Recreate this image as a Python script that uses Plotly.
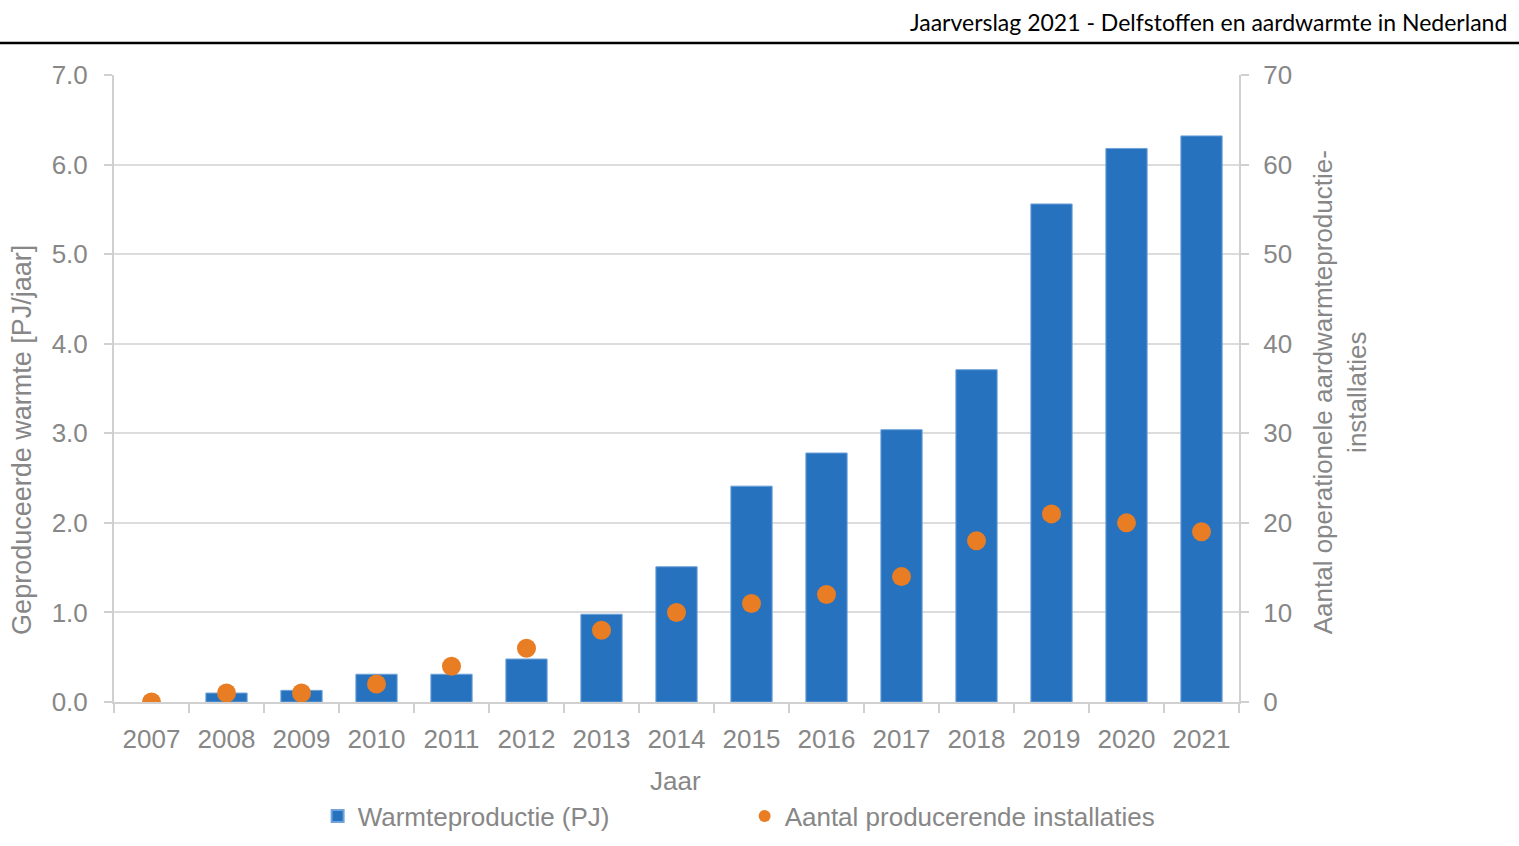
import plotly.graph_objects as go

years = [str(y) for y in range(2007, 2022)]
warmte_pj = [0.0, 0.10, 0.13, 0.31, 0.31, 0.48, 0.98, 1.51, 2.41, 2.78, 3.04, 3.71, 5.56, 6.18, 6.32]
installaties = [0, 1, 1, 2, 4, 6, 8, 10, 11, 12, 14, 18, 21, 20, 19]
left_ticks = [0, 1, 2, 3, 4, 5, 6, 7]
right_ticks = [0, 10, 20, 30, 40, 50, 60, 70]

GRAY = "#878787"
FONT = "Liberation Sans, Arial, sans-serif"

fig = go.Figure()
fig.add_trace(go.Bar(
    x=years, y=warmte_pj, name="Warmteproductie (PJ)",
    marker=dict(color="#2772BE",
                line=dict(color="#6FA3DA", width=[0 if v == 0 else 1 for v in warmte_pj])),
    width=0.55, yaxis="y",
))
fig.add_trace(go.Scatter(
    x=years, y=installaties, name="Aantal producerende installaties",
    mode="markers", marker=dict(color="#E87D24", size=19),
    yaxis="y2",
))

fig.update_layout(
    width=1519, height=846,
    margin=dict(l=114, r=280, t=75, b=144, autoexpand=False),
    paper_bgcolor="white", plot_bgcolor="white",
    font=dict(family=FONT, size=26, color=GRAY),
    showlegend=True,
    legend=dict(orientation="h", x=0.181, xanchor="left", yref="container", y=1 - 816 / 846,
                yanchor="middle",
                font=dict(size=26, color=GRAY), entrywidth=382, entrywidthmode="pixels",
                itemsizing="constant", bgcolor="rgba(0,0,0,0)"),
    xaxis=dict(
        type="category", range=[-0.5, len(years) - 0.5], automargin=False,
        showgrid=False, showline=True, linecolor="#d0d0d0", linewidth=2,
        ticks="outside", tickson="boundaries", ticklen=9, tickcolor="#d0d0d0", tickwidth=2,
        tickfont=dict(size=26, color=GRAY), ticklabelstandoff=13,
    ),
    yaxis=dict(
        range=[0, 7], tickvals=left_ticks, ticktext=[f"{v:.1f}" for v in left_ticks],
        automargin=False,
        showgrid=True, gridcolor="#dcdcdc", gridwidth=1.5,
        showline=True, linecolor="#d0d0d0", linewidth=2,
        ticks="outside", ticklen=8, tickcolor="#d0d0d0", tickwidth=1.5,
        tickfont=dict(size=26, color=GRAY), ticklabelstandoff=11, zeroline=False,
    ),
    yaxis2=dict(
        range=[0, 70], tickvals=right_ticks, overlaying="y", side="right", automargin=False,
        showgrid=False, showline=True, linecolor="#d0d0d0", linewidth=2,
        ticks="outside", ticklen=8, tickcolor="#d0d0d0", tickwidth=1.5,
        tickfont=dict(size=26, color=GRAY), ticklabelstandoff=9, zeroline=False,
    ),
    annotations=[
        dict(text="Geproduceerde warmte [PJ/jaar]", xref="paper", yref="paper",
             x=-0.0818, y=0.418, textangle=-90, showarrow=False,
             font=dict(size=27, color=GRAY), xanchor="center", yanchor="middle"),
        dict(text="Aantal operationele aardwarmteproductie-<br>installaties", xref="paper", yref="paper",
             x=1.0898, y=0.494, textangle=-90, showarrow=False,
             font=dict(size=26, color=GRAY), xanchor="center", yanchor="middle"),
        dict(text="Jaar", xref="paper", yref="paper", x=0.4987, y=-0.126,
             showarrow=False, font=dict(size=26, color=GRAY), xanchor="center", yanchor="middle"),
        dict(text="Jaarverslag 2021 - Delfstoffen en aardwarmte in Nederland", xref="paper", yref="paper",
             x=(1509 - 114) / 1125, y=(702 - 22) / 627, showarrow=False, xanchor="right", yanchor="middle",
             font=dict(family="Lato, Open Sans, sans-serif", size=23, color="black")),
    ],
    shapes=[
        dict(type="line", xref="paper", yref="paper", x0=-114 / 1125, x1=(1519 - 114) / 1125,
             y0=(702 - 43) / 627, y1=(702 - 43) / 627, line=dict(color="black", width=2.5)),
    ],
)

fig.write_html("out.html", config={"displayModeBar": False},
               post_script="document.body.style.margin='0';")
